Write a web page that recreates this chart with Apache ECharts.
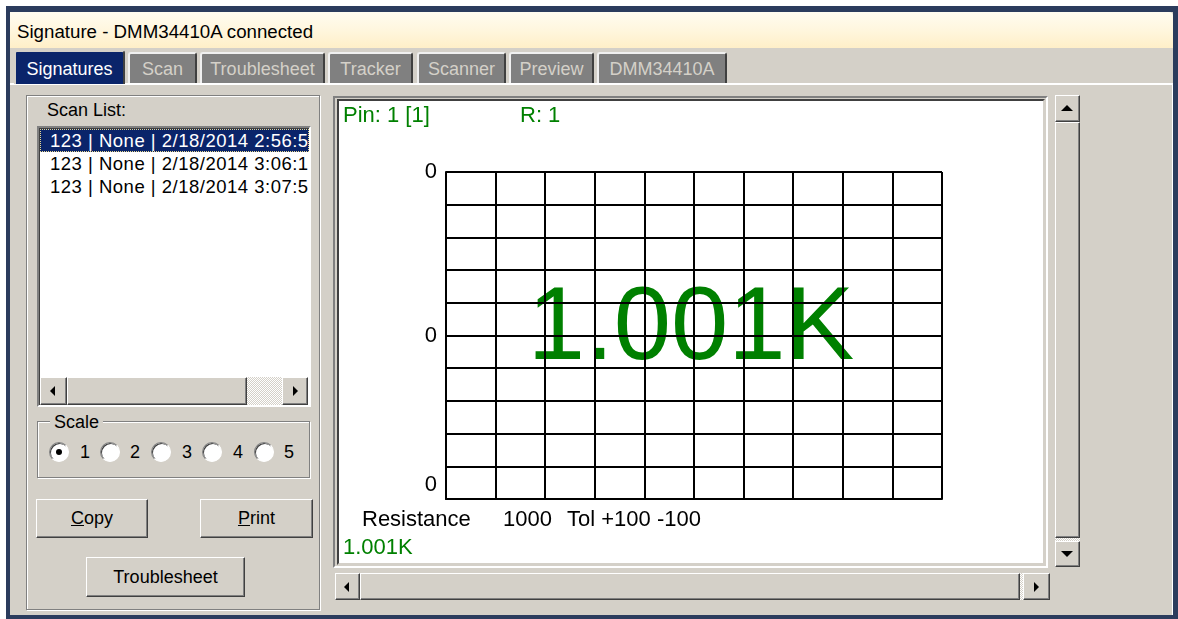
<!DOCTYPE html>
<html>
<head>
<meta charset="utf-8">
<title>Signature - DMM34410A connected</title>
<script src="https://cdn.jsdelivr.net/npm/echarts@6/dist/echarts.min.js"></script>
<style>
html,body{margin:0;padding:0;background:#fff;}
body{width:1178px;height:619px;position:relative;overflow:hidden;font-family:"Liberation Sans",Arial,sans-serif;font-size:18px;color:#000;}
.a{position:absolute;box-sizing:border-box;}
.win{left:6px;top:6px;width:1172px;height:613px;background:#d4d0c8;border:solid #2b3c5d;border-width:6px 5px 4px 4px;}
.titlebar{left:10px;top:12px;width:1163px;height:36px;background:linear-gradient(#fffcf0,#fff7e0 45%,#ffefc8);line-height:40px;padding-left:7px;font-size:18.7px;border-radius:0 4px 0 0;}
.page{left:10px;top:83px;width:1163px;height:532px;border-top:2px solid #fff;border-right:1px solid #fff;}
.tab{top:52px;height:31px;background:#808080;color:#d4d0c8;text-align:center;line-height:31px;border-top:2px solid #f0f0f0;border-left:2px solid #f0f0f0;border-right:2px solid #404040;border-radius:3px 3px 0 0;}
.tab.on{top:50px;height:34px;background:#0a246a;color:#fff;line-height:34px;border-color:#d4d0c8 #404040 #0a246a #d4d0c8;}
.etched{border:1px solid #808080;box-shadow:inset 1px 1px #fff,1px 1px #fff;}
.sunken{border:2px solid;border-color:#808080 #fff #fff #808080;box-shadow:inset 1px 1px #404040;}
.raised{background:#d4d0c8;border:1px solid;border-color:#fff #404040 #404040 #fff;box-shadow:inset -1px -1px #808080;}
.dots{background-color:#fff;background-image:repeating-conic-gradient(#d4d0c8 0 25%,#fff 0 50%);background-size:2px 2px;}
.btn{text-align:center;}
.arrow{position:absolute;width:0;height:0;border-style:solid;}
.radio{width:20px;height:20px;border-radius:50%;background:#fff;border:1px solid;border-color:#808080 #fff #fff #808080;box-shadow:inset 1px 1px #404040;}
.dot{left:6px;top:6px;width:6px;height:6px;border-radius:50%;background:#000;}
.row{left:0;height:23px;line-height:23px;padding-left:10px;white-space:nowrap;width:269px;font-size:18.5px;letter-spacing:0.5px;}
.row.on{background:#0a246a;color:#fff;outline:1px dotted #e8d890;outline-offset:-1px;}
</style>
</head>
<body>
<div id="ui"></div>
<script>
// data
const windowTitle = 'Signature - DMM34410A connected';
const tabNames = ['Signatures', 'Scan', 'Troublesheet', 'Tracker', 'Scanner', 'Preview', 'DMM34410A'];
const scanList = ['123 | None | 2/18/2014 2:56:58', '123 | None | 2/18/2014 3:06:17', '123 | None | 2/18/2014 3:07:56'];
const scaleOptions = ['1', '2', '3', '4', '5'];
const selectedScale = '1';
const pinLabel = 'Pin: 1 [1]';
const rLabel = 'R: 1';
const componentType = 'Resistance';
const nominalValue = 1000;
const tolPlus = 100;
const tolMinus = 100;
const reading = '1.001K';
const yTickValues = [0, 5, 10];
const yTickLabels = ['0', '0', '0'];
const gridCols = 10;
const gridRows = 10;

// layout
const tabEdges = [[14, 125], [128, 197], [200, 325], [328, 413], [417, 506], [509, 594], [597, 727]];
const radioX = [49, 100, 151, 202, 254];
const radioLabelX = [80, 130, 182, 233, 284];

const ui = document.getElementById('ui');
function box(cls, l, t, w, h, html, extra) {
    const d = document.createElement('div');
    d.className = 'a ' + cls;
    d.style.left = l + 'px'; d.style.top = t + 'px';
    if (w != null) d.style.width = w + 'px';
    if (h != null) d.style.height = h + 'px';
    if (html != null) d.innerHTML = html;
    if (extra) d.style.cssText += extra;
    (this && this.appendChild ? this : ui).appendChild(d);
    return d;
}
function arrow(parent, dir, cx, cy) {
    const a = document.createElement('div');
    a.className = 'arrow';
    if (dir === 'left') { a.style.borderWidth = '5px 5px 5px 0'; a.style.borderColor = 'transparent #000 transparent transparent'; a.style.left = (cx - 3) + 'px'; a.style.top = (cy - 5) + 'px'; }
    if (dir === 'right') { a.style.borderWidth = '5px 0 5px 5px'; a.style.borderColor = 'transparent transparent transparent #000'; a.style.left = (cx - 2) + 'px'; a.style.top = (cy - 5) + 'px'; }
    if (dir === 'up') { a.style.borderWidth = '0 6px 6px 6px'; a.style.borderColor = 'transparent transparent #000 transparent'; a.style.left = (cx - 6) + 'px'; a.style.top = (cy - 3) + 'px'; }
    if (dir === 'down') { a.style.borderWidth = '6px 6px 0 6px'; a.style.borderColor = '#000 transparent transparent transparent'; a.style.left = (cx - 6) + 'px'; a.style.top = (cy - 3) + 'px'; }
    parent.appendChild(a);
}

// window
box('win', 6, 6);
box('titlebar', 10, 12, null, null, windowTitle);
box('page', 10, 83);
tabNames.forEach((name, i) => {
    const [x0, x1] = tabEdges[i];
    box('tab' + (i === 0 ? ' on' : ''), x0, null, x1 - x0, null, name);
});

// left panel
box('etched', 26, 95, 294, 515);
box('', 47, 99, null, 22, 'Scan List:', 'line-height:22px;');
box('sunken', 37, 126, 274, 281, '', 'background:#fff;');
const list = box('', 40, 129, 269, 246, '', 'overflow:hidden;');
scanList.forEach((s, i) => {
    box.call(list, 'row' + (i === 0 ? ' on' : ''), 0, i * 23, null, null, s);
});
// list scrollbar
const lb = box('raised', 40, 377, 27, 28); arrow(lb, 'left', 12, 13);
box('raised', 67, 377, 180, 28);
box('dots', 247, 377, 35, 28);
const rb = box('raised', 282, 377, 26, 28); arrow(rb, 'right', 12, 13);

// scale group
box('etched', 37, 421, 273, 57);
box('', 50, 411, null, 22, 'Scale', 'background:#d4d0c8;padding:0 4px;line-height:22px;');
scaleOptions.forEach((s, i) => {
    const r = box('radio', radioX[i], 442, 20, 20);
    if (s === selectedScale) box.call(r, 'dot', 6, 6, 6, 6);
    box('', radioLabelX[i], 441, null, 22, s, 'line-height:22px;');
});

// buttons
box('raised btn', 36, 499, 112, 39, '<u>C</u>opy', 'line-height:37px;');
box('raised btn', 200, 499, 113, 39, '<u>P</u>rint', 'line-height:37px;');
box('raised btn', 86, 557, 159, 40, 'Troublesheet', 'line-height:38px;');

// plot frame
box('', 333, 96, 715, 472, '', 'border:2px solid;border-color:#808080 #fff #fff #808080;');
box('', 337, 99, 708, 466, '', 'border:2px solid;border-color:#404040 #d4d0c8 #d4d0c8 #404040;');
box('', 339, 101, 704, 462, '', 'background:#fff;').id = 'plot';

// vertical scrollbar
const ub = box('raised', 1055, 95, 25, 27); arrow(ub, 'up', 11, 12);
box('raised', 1055, 122, 25, 416);
box('dots', 1055, 538, 25, 3);
const db = box('raised', 1055, 541, 25, 26); arrow(db, 'down', 11, 12);
// horizontal scrollbar
const hl = box('raised', 335, 573, 25, 27); arrow(hl, 'left', 11, 13);
box('raised', 360, 573, 660, 27);
box('dots', 1020, 573, 3, 27);
const hr = box('raised', 1023, 573, 27, 27); arrow(hr, 'right', 12, 13);

// chart
const chart = echarts.init(document.getElementById('plot'));
const font = '"Liberation Sans", Arial, sans-serif';
function txt(text, x, y, color, size, align) {
    return {
        type: 'text', silent: true,
        style: { text: text, x: x, y: y, fill: color, fontSize: size, fontFamily: font, align: align || 'left', verticalAlign: 'middle' }
    };
}
const lineStyle = { color: '#000', width: 2 };
const option = {
    animation: false,
    grid: { left: 107, top: 71, right: 101, bottom: 64 },
    xAxis: {
        type: 'value', min: 0, max: gridCols, interval: 1,
        axisLine: { show: true, lineStyle: lineStyle },
        axisTick: { show: false },
        axisLabel: { show: false },
        splitLine: { show: true, lineStyle: lineStyle }
    },
    yAxis: {
        type: 'value', min: 0, max: gridRows, interval: 1,
        axisLine: { show: true, lineStyle: lineStyle },
        axisTick: { show: false },
        splitLine: { show: true, lineStyle: lineStyle },
        axisLabel: {
            color: '#000', fontSize: 22, fontFamily: font, margin: 9,
            formatter: function (v) {
                const i = yTickValues.indexOf(v);
                if (i < 0) return '';
                return i === 0 ? '{low|' + yTickLabels[i] + '}' : yTickLabels[i];
            },
            rich: { low: { color: '#000', fontSize: 22, fontFamily: font, padding: [0, 0, 28, 0] } }
        }
    },
    series: [{ type: 'line', data: [], symbol: 'none' }],
    graphic: [
        txt(pinLabel, 4, 15, '#008000', 22),
        txt(rLabel, 181, 15, '#008000', 22),
        txt(reading, 352, 229.5, '#008000', 103, 'center'),
        txt(componentType, 23, 419, '#000', 22),
        txt(String(nominalValue), 164, 419, '#000', 22),
        txt('Tol +' + tolPlus + ' -' + tolMinus, 228, 419, '#000', 22),
        txt(reading, 4, 447, '#008000', 22)
    ]
};
chart.setOption(option);
</script>
</body>
</html>
